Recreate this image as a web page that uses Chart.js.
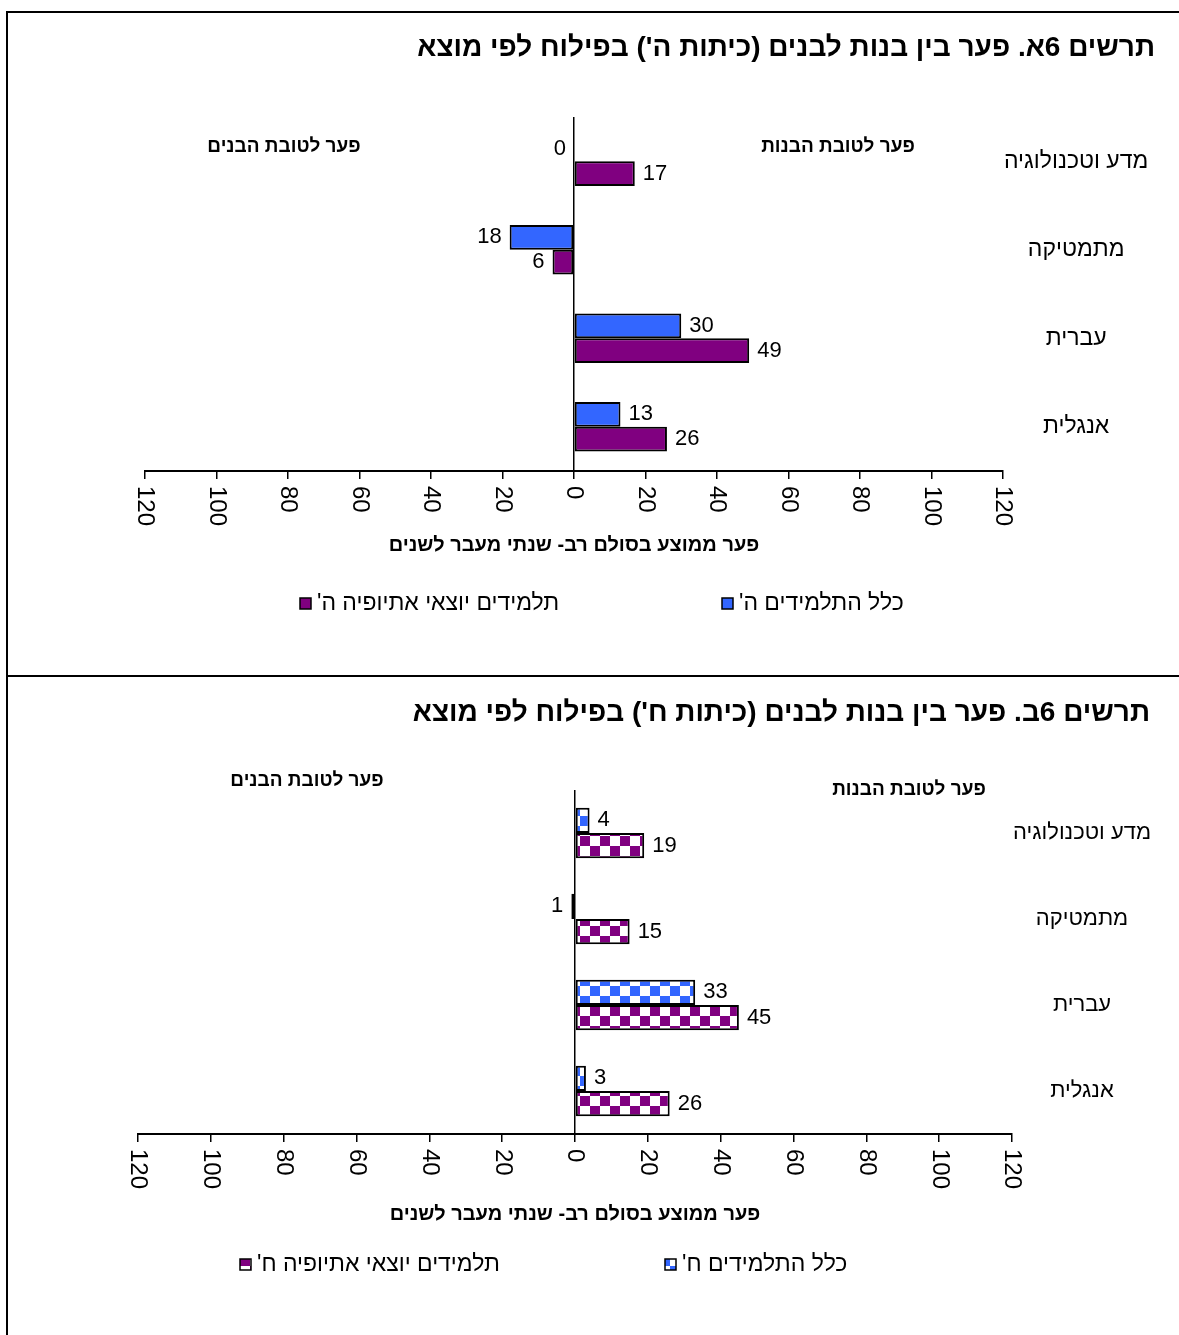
<!DOCTYPE html>
<html lang="he">
<head>
<meta charset="utf-8">
<script src="https://cdn.jsdelivr.net/npm/chart.js@4.4.1/dist/chart.umd.min.js"></script>
<style>
  body { margin: 0; background: #fff; }
  #wrap { position: relative; width: 1179px; height: 1335px; overflow: hidden; }
  canvas { position: absolute; left: 0; direction: rtl; }
  .line { position: absolute; background: #000; }
</style>
</head>
<body>
<div id="wrap">
  <canvas id="chartA" width="1179" height="676" style="top:0"></canvas>
  <canvas id="chartB" width="1179" height="659" style="top:676px"></canvas>
  <div class="line" style="left:6px;top:11px;width:2px;height:1324px"></div>
  <div class="line" style="left:6px;top:11px;width:1173px;height:2px"></div>
  <div class="line" style="left:6px;top:675px;width:1173px;height:2px"></div>
</div>
<script>
// data
const subjects = ['מדע וטכנולוגיה', 'מתמטיקה', 'עברית', 'אנגלית'];
const tickValues = [-120, -100, -80, -60, -40, -20, 0, 20, 40, 60, 80, 100, 120];

const allGrade5 = [0, -18, 30, 13];
const ethGrade5 = [17, -6, 49, 26];
const allGrade8 = [4, -1, 33, 3];
const ethGrade8 = [19, 15, 45, 26];

const FONT = "'Liberation Sans', Arial, sans-serif";
const BLUE = '#3366FF';
const PURPLE = '#800080';

// checker pattern for the second chart
function makeChecker(color) {
    const c = document.createElement('canvas');
    c.width = 20;
    c.height = 20;
    const g = c.getContext('2d');
    g.fillStyle = '#fff';
    g.fillRect(0, 0, 20, 20);
    g.fillStyle = color;
    g.fillRect(0, 0, 10, 10);
    g.fillRect(10, 10, 10, 10);
    return g.createPattern(c, 'repeat');
}

// draws rotated tick labels, value labels, titles, notes and legend
const decorPlugin = {
    id: 'decor',
    afterDraw(chart, args, opts) {
        const ctx = chart.ctx;
        const x = chart.scales.x;
        ctx.save();
        ctx.fillStyle = '#000';
        ctx.textBaseline = 'middle';

        // x tick labels, turned clockwise
        ctx.font = opts.tickFont;
        ctx.textAlign = 'left';
        x.ticks.forEach(t => {
            const px = x.getPixelForValue(t.value);
            ctx.save();
            ctx.translate(px, x.top + opts.tickGap);
            ctx.rotate(Math.PI / 2);
            ctx.fillText(String(Math.abs(t.value)), 0, 0);
            ctx.restore();
        });

        // value labels at bar ends
        ctx.font = opts.valueFont;
        chart.data.datasets.forEach((ds, di) => {
            const meta = chart.getDatasetMeta(di);
            meta.data.forEach((bar, i) => {
                const v = ds.data[i];
                const p = bar.getProps(['x', 'y', 'base'], true);
                if (v > 0) {
                    ctx.textAlign = 'left';
                    ctx.fillText(String(Math.abs(v)), p.x + 8, p.y);
                } else {
                    ctx.textAlign = 'right';
                    ctx.fillText(String(Math.abs(v)), Math.min(p.x, p.base) - 8, p.y);
                }
            });
        });

        // title
        ctx.font = opts.titleFont;
        ctx.textAlign = 'right';
        ctx.fillText(opts.title.text, opts.title.x, opts.title.y);

        // side notes
        ctx.font = opts.noteFont;
        ctx.textAlign = 'center';
        opts.notes.forEach(n => ctx.fillText(n.text, n.x, n.y));

        // legend
        ctx.font = opts.legendFont;
        ctx.textAlign = 'left';
        chart.data.datasets.forEach((ds, di) => {
            const pos = opts.legend[di];
            ctx.fillStyle = ds.backgroundColor;
            ctx.fillRect(pos.x, pos.y - 6, 11, 11);
            ctx.strokeStyle = '#000';
            ctx.lineWidth = 1.5;
            ctx.strokeRect(pos.x, pos.y - 6, 11, 11);
            ctx.fillStyle = '#000';
            ctx.fillText(ds.label, pos.x + 17, pos.y);
        });
        ctx.restore();
    }
};

function makeChart(id, cfg) {
    return new Chart(document.getElementById(id), {
        type: 'bar',
        data: {
            labels: subjects,
            datasets: cfg.datasets.map(d => ({
                label: d.label,
                data: d.data,
                backgroundColor: d.color,
                borderColor: '#000',
                borderWidth: 2,
                borderSkipped: false,
                barPercentage: 1,
                categoryPercentage: cfg.catPct
            }))
        },
        options: {
            indexAxis: 'y',
            responsive: false,
            animation: false,
            layout: { padding: cfg.padding },
            scales: {
                x: {
                    min: -120,
                    max: 120,
                    afterBuildTicks: s => { s.ticks = tickValues.map(v => ({ value: v })); },
                    afterFit: s => { s.height = cfg.xHeight; },
                    ticks: { display: false },
                    grid: {
                        color: c => (c.tick && c.tick.value === 0 ? '#000' : 'rgba(0,0,0,0)'),
                        lineWidth: 1.5,
                        tickColor: '#000',
                        tickWidth: 1.5,
                        tickLength: 8
                    },
                    border: { display: true, color: '#000', width: 2 },
                    title: {
                        display: true,
                        text: 'פער ממוצע בסולם רב- שנתי מעבר לשנים',
                        color: '#000',
                        font: { family: FONT, size: 20, weight: 'bold' },
                        padding: { top: 0, bottom: 4 }
                    }
                },
                y: {
                    position: 'right',
                    afterFit: s => { s.width = cfg.yWidth; },
                    grid: { display: false, drawTicks: false },
                    border: { display: false },
                    ticks: {
                        color: '#000',
                        crossAlign: 'center',
                        padding: cfg.yPad,
                        font: { family: FONT, size: cfg.catSize }
                    }
                }
            },
            plugins: {
                legend: { display: false },
                tooltip: { enabled: false },
                decor: {
                    tickFont: '24px ' + FONT,
                    tickGap: 15,
                    valueFont: '22px ' + FONT,
                    titleFont: 'bold 28px ' + FONT,
                    noteFont: 'bold 19px ' + FONT,
                    legendFont: cfg.legendSize + 'px ' + FONT,
                    title: cfg.title,
                    notes: cfg.notes,
                    legend: cfg.legend
                }
            }
        },
        plugins: [decorPlugin]
    });
}

makeChart('chartA', {
    datasets: [
        { label: "כלל התלמידים ה'", data: allGrade5, color: BLUE },
        { label: "תלמידים יוצאי אתיופיה ה'", data: ethGrade5, color: PURPLE }
    ],
    catPct: 0.56,
    padding: { top: 117, left: 145, right: 24, bottom: 115 },
    xHeight: 90,
    yWidth: 152,
    yPad: 1,
    catSize: 23,
    legendSize: 23,
    title: { text: "תרשים 6א. פער בין בנות לבנים (כיתות ה') בפילוח לפי מוצא", x: 1155, y: 48 },
    notes: [
        { text: 'פער לטובת הבנים', x: 284, y: 147 },
        { text: 'פער לטובת הבנות', x: 838, y: 147 }
    ],
    legend: [{ x: 722, y: 604 }, { x: 300, y: 604 }]
});

makeChart('chartB', {
    datasets: [
        { label: "כלל התלמידים ח'", data: allGrade8, color: makeChecker(BLUE) },
        { label: "תלמידים יוצאי אתיופיה ח'", data: ethGrade8, color: makeChecker(PURPLE) }
    ],
    catPct: 0.59,
    padding: { top: 114, left: 138, right: 24, bottom: 105 },
    xHeight: 96,
    yWidth: 143,
    yPad: 1,
    catSize: 22,
    legendSize: 23,
    title: { text: "תרשים 6ב. פער בין בנות לבנים (כיתות ח') בפילוח לפי מוצא", x: 1150, y: 37 },
    notes: [
        { text: 'פער לטובת הבנים', x: 307, y: 105 },
        { text: 'פער לטובת הבנות', x: 909, y: 114 }
    ],
    legend: [{ x: 665, y: 589 }, { x: 240, y: 589 }]
});
</script>
</body>
</html>
